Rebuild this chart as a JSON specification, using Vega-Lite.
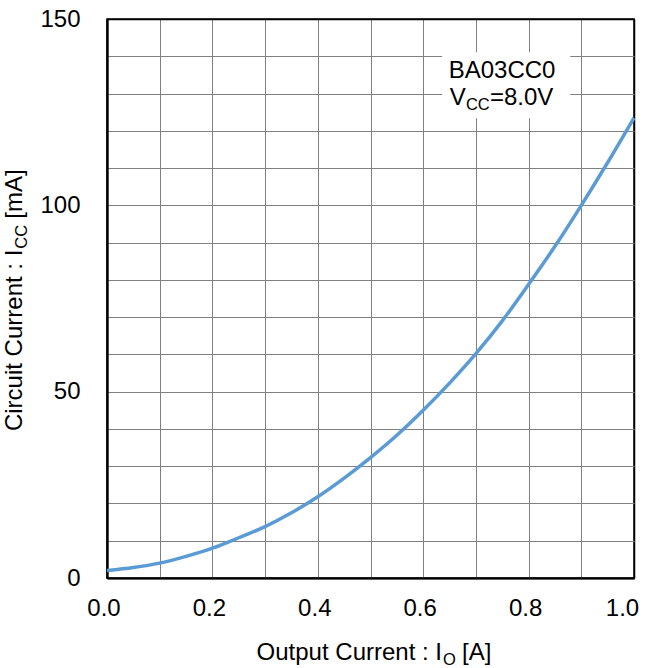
{
  "$schema": "https://vega.github.io/schema/vega-lite/v6.json",
  "width": 527,
  "height": 559,
  "autosize": {"type": "none"},
  "padding": {"left": 107, "top": 19, "right": 14, "bottom": 90},
  "background": "white",
  "config": {
    "view": {"stroke": "black", "strokeWidth": 1.5},
    "font": "Liberation Sans",
    "text": {"font": "Liberation Sans", "color": "black"}
  },
  "encoding": {
    "x": {"field": "x", "type": "quantitative", "scale": {"domain": [0, 1], "nice": false},
      "axis": {
        "values": [0, 0.1, 0.2, 0.3, 0.4, 0.5, 0.6, 0.7, 0.8, 0.9, 1.0],
        "title": null,
        "ticks": false,
        "grid": true,
        "gridColor": {"condition": {"test": "datum.value >= 0.999 || datum.value <= 0.001", "value": "black"}, "value": "#808080"},
        "gridWidth": {"condition": {"test": "datum.value >= 0.999 || datum.value <= 0.001", "value": 1.5}, "value": 1},
        "domain": true, "domainColor": "black", "domainWidth": 2.2,
        "labelFont": "Liberation Sans", "labelFontSize": 24, "labelColor": "black",
        "labelPadding": 18, "labelFlush": false, "labelOverlap": false,
        "labelOffset": {"condition": {"test": "datum.value >= 0.999", "value": -12}, "value": -3.5},
        "labelExpr": "round(datum.value*10) % 2 === 0 ? format(datum.value, '.1f') : ''"
      }},
    "y": {"field": "y", "type": "quantitative", "scale": {"domain": [0, 150], "nice": false},
      "axis": {
        "values": [0, 10, 20, 30, 40, 50, 60, 70, 80, 90, 100, 110, 120, 130, 140, 150],
        "title": null,
        "ticks": false,
        "grid": true,
        "gridColor": {"condition": {"test": "datum.value >= 149.9 || datum.value <= 0.1", "value": "black"}, "value": "#808080"},
        "gridWidth": {"condition": {"test": "datum.value >= 149.9 || datum.value <= 0.1", "value": 1.5}, "value": 1},
        "domain": true, "domainColor": "black", "domainWidth": 2.2,
        "labelFont": "Liberation Sans", "labelFontSize": 24, "labelColor": "black",
        "labelPadding": 27, "labelOverlap": false,
        "labelExpr": "datum.value % 50 === 0 ? format(datum.value, 'd') : ''"
      }}
  },
  "layer": [
    {
      "data": {"values": [{"x": 0.636, "x2": 0.879, "y": 123.4, "y2": 141.1}]},
      "mark": {"type": "rect", "fill": "white", "stroke": null},
      "encoding": {
        "x2": {"field": "x2"},
        "y2": {"field": "y2"}
      }
    },
    {
      "data": {"values": [
        {"x": 0.0, "y": 2.0},
        {"x": 0.05, "y": 2.8},
        {"x": 0.1, "y": 4.0},
        {"x": 0.15, "y": 5.8},
        {"x": 0.2, "y": 8.0},
        {"x": 0.25, "y": 10.8},
        {"x": 0.3, "y": 13.8},
        {"x": 0.35, "y": 17.5},
        {"x": 0.4, "y": 21.8},
        {"x": 0.45, "y": 26.8},
        {"x": 0.5, "y": 32.3},
        {"x": 0.55, "y": 38.3},
        {"x": 0.6, "y": 45.0},
        {"x": 0.65, "y": 52.3},
        {"x": 0.7, "y": 60.2},
        {"x": 0.75, "y": 69.0},
        {"x": 0.8, "y": 78.8},
        {"x": 0.85, "y": 89.0},
        {"x": 0.9, "y": 100.0},
        {"x": 0.95, "y": 111.5},
        {"x": 1.0, "y": 123.5}
      ]},
      "mark": {"type": "line", "color": "#5B9BD5", "strokeWidth": 3.5, "interpolate": "monotone"}
    },
    {
      "data": {"values": [{"x": 0.7496, "y": 134.2, "label": "BA03CC0"}]},
      "mark": {"type": "text", "fontSize": 24, "align": "center", "baseline": "alphabetic"},
      "encoding": {"text": {"field": "label"}}
    },
    {
      "data": {"values": [{"x": 0.681, "y": 126.9, "label": "V"}]},
      "mark": {"type": "text", "fontSize": 24, "align": "right", "baseline": "alphabetic"},
      "encoding": {"text": {"field": "label"}}
    },
    {
      "data": {"values": [{"x": 0.681, "y": 126.9, "label": "CC"}]},
      "mark": {"type": "text", "fontSize": 16.5, "align": "left", "baseline": "alphabetic", "dx": 0, "dy": 5},
      "encoding": {"text": {"field": "label"}}
    },
    {
      "data": {"values": [{"x": 0.681, "y": 126.9, "label": "=8.0V"}]},
      "mark": {"type": "text", "fontSize": 24, "align": "left", "baseline": "alphabetic", "dx": 24},
      "encoding": {"text": {"field": "label"}}
    },
    {
      "data": {"values": [{"x": 0.6357, "y": -22.0, "label": "Output Current : I"}]},
      "mark": {"type": "text", "fontSize": 24, "align": "right", "baseline": "alphabetic"},
      "encoding": {"text": {"field": "label"}}
    },
    {
      "data": {"values": [{"x": 0.6357, "y": -22.0, "label": "O"}]},
      "mark": {"type": "text", "fontSize": 16.5, "align": "left", "baseline": "alphabetic", "dx": 1, "dy": 5},
      "encoding": {"text": {"field": "label"}}
    },
    {
      "data": {"values": [{"x": 0.6357, "y": -22.0, "label": "[A]"}]},
      "mark": {"type": "text", "fontSize": 24, "align": "left", "baseline": "alphabetic", "dx": 20},
      "encoding": {"text": {"field": "label"}}
    },
    {
      "data": {"values": [{"x": -0.161, "y": 88.1, "label": "Circuit Current : I"}]},
      "mark": {"type": "text", "fontSize": 24, "align": "right", "baseline": "alphabetic", "angle": 270},
      "encoding": {"text": {"field": "label"}}
    },
    {
      "data": {"values": [{"x": -0.161, "y": 88.1, "label": "CC"}]},
      "mark": {"type": "text", "fontSize": 16.5, "align": "left", "baseline": "alphabetic", "angle": 270, "dx": 1, "dy": 5},
      "encoding": {"text": {"field": "label"}}
    },
    {
      "data": {"values": [{"x": -0.161, "y": 88.1, "label": "[mA]"}]},
      "mark": {"type": "text", "fontSize": 24, "align": "left", "baseline": "alphabetic", "angle": 270, "dx": 31},
      "encoding": {"text": {"field": "label"}}
    }
  ]
}
